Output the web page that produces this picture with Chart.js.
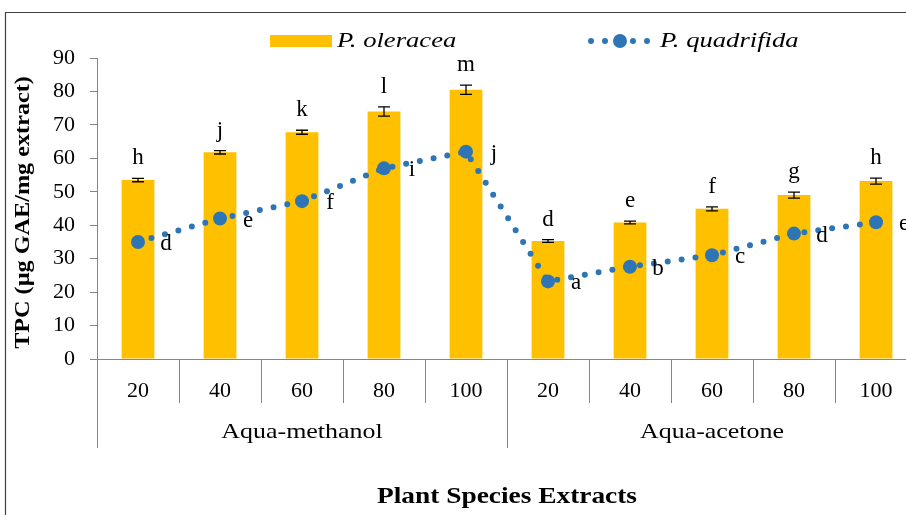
<!DOCTYPE html>
<html lang="en">
<head>
    <meta charset="UTF-8" />
    <title>TPC of plant species extracts</title>
    <script src="https://cdn.jsdelivr.net/npm/chart.js"></script>
    <style>
        * {
            box-sizing: border-box;
            margin: 0;
            padding: 0;
        }
        html, body {
            width: 906px;
            height: 515px;
            overflow: hidden;
            background: #ffffff;
        }
        #wrap {
            position: relative;
            width: 924px;
            height: 515px;
        }
    </style>
</head>
<body>

    <div id="wrap">
        <canvas id="tpcChart" width="924" height="515"></canvas>
    </div>

    <script>
        // values
        const categories = ['20', '40', '60', '80', '100', '20', '40', '60', '80', '100'];
        const groups = ['Aqua-methanol', 'Aqua-acetone'];
        const groupSize = 5;

        const oleracea = [53.5, 61.8, 67.8, 74.0, 80.5, 35.3, 40.8, 44.9, 49.0, 53.2];
        const oleraceaErr = [0.5, 0.5, 0.6, 1.4, 1.4, 0.4, 0.4, 0.6, 0.9, 0.9];
        const oleraceaLetters = ['h', 'j', 'k', 'l', 'm', 'd', 'e', 'f', 'g', 'h'];

        const quadrifida = [35.0, 42.0, 47.2, 57.0, 62.0, 23.2, 27.6, 31.0, 37.5, 40.9];
        const quadrifidaLetters = ['d', 'e', 'f', 'i', 'j', 'a', 'b', 'c', 'd', 'e'];

        const yTicks = [0, 10, 20, 30, 40, 50, 60, 70, 80, 90];

        const BAR = '#FFC000';
        const LINE = '#2E75B6';
        const AXIS = '#868686';
        const SERIF = '"Liberation Serif", "Times New Roman", serif';

        // the original text is a little wider than plain Times
        function wideText(ctx, text, x, y, sx) {
            ctx.save();
            ctx.translate(x, y);
            ctx.scale(sx, 1);
            ctx.fillText(text, 0, 0);
            ctx.restore();
        }

        // error bars, letters, x dividers, group labels, titles, legend, frame
        const extras = {
            id: 'extras',
            afterDatasetsDraw(chart) {
                const ctx = chart.ctx;
                const x = chart.scales.x;
                const y = chart.scales.y;

                // error bars
                ctx.save();
                ctx.strokeStyle = '#000';
                ctx.lineWidth = 1.3;
                oleracea.forEach((v, i) => {
                    const px = x.getPixelForValue(i);
                    const top = y.getPixelForValue(v + oleraceaErr[i]);
                    const bot = y.getPixelForValue(v - oleraceaErr[i]);
                    ctx.beginPath();
                    ctx.moveTo(px, top); ctx.lineTo(px, bot);
                    ctx.moveTo(px - 6, top); ctx.lineTo(px + 6, top);
                    ctx.moveTo(px - 6, bot); ctx.lineTo(px + 6, bot);
                    ctx.stroke();
                });
                ctx.restore();

                // letters
                ctx.save();
                ctx.fillStyle = '#000';
                ctx.font = '23px ' + SERIF;
                ctx.textAlign = 'center';
                ctx.textBaseline = 'middle';
                oleracea.forEach((v, i) => {
                    const px = x.getPixelForValue(i);
                    const top = y.getPixelForValue(v + oleraceaErr[i]);
                    ctx.fillText(oleraceaLetters[i], px, top - 20);
                });
                quadrifida.forEach((v, i) => {
                    const px = x.getPixelForValue(i);
                    ctx.fillText(quadrifidaLetters[i], px + 28, y.getPixelForValue(v) + 2);
                });
                ctx.restore();
            },
            afterDraw(chart) {
                const ctx = chart.ctx;
                const x = chart.scales.x;
                const area = chart.chartArea;
                const step = x.width / categories.length;

                // category and group dividers below the axis
                ctx.save();
                ctx.strokeStyle = AXIS;
                ctx.lineWidth = 1;
                for (let i = 0; i <= categories.length; i++) {
                    const px = Math.round(x.left + i * step) + 0.5;
                    const isGroup = i % groupSize === 0;
                    ctx.beginPath();
                    ctx.moveTo(px, area.bottom);
                    ctx.lineTo(px, area.bottom + (isGroup ? 89 : 44));
                    ctx.stroke();
                }
                ctx.restore();

                // group labels
                ctx.save();
                ctx.fillStyle = '#000';
                ctx.font = '22px ' + SERIF;
                ctx.textAlign = 'center';
                ctx.textBaseline = 'middle';
                groups.forEach((g, k) => {
                    const cx = x.left + (k * groupSize + groupSize / 2) * step;
                    wideText(ctx, g, cx, area.bottom + 73, 1.18);
                });

                // axis titles
                ctx.font = 'bold 23px ' + SERIF;
                wideText(ctx, 'Plant Species Extracts', (x.left + x.right) / 2, area.bottom + 138, 1.19);
                ctx.save();
                ctx.translate(24, (area.top + area.bottom) / 2 + 4);
                ctx.rotate(-Math.PI / 2);
                ctx.font = 'bold 20px ' + SERIF;
                wideText(ctx, 'TPC (µg GAE/mg extract)', 0, 0, 1.21);
                ctx.restore();

                // legend
                ctx.font = 'italic 22px ' + SERIF;
                ctx.textAlign = 'left';
                ctx.fillStyle = BAR;
                ctx.fillRect(270, 35, 62, 12);
                ctx.fillStyle = '#000';
                wideText(ctx, chart.data.datasets[1].label, 337, 41, 1.21);

                ctx.strokeStyle = LINE;
                ctx.lineWidth = 6;
                ctx.lineCap = 'round';
                ctx.setLineDash([0, 14]);
                ctx.beginPath();
                ctx.moveTo(591, 41); ctx.lineTo(650, 41);
                ctx.stroke();
                ctx.setLineDash([]);
                ctx.fillStyle = LINE;
                ctx.beginPath();
                ctx.arc(620, 41, 7, 0, Math.PI * 2);
                ctx.fill();
                ctx.fillStyle = '#000';
                wideText(ctx, chart.data.datasets[0].label, 660, 41, 1.21);

                // outer frame (cut by the window on the right and bottom)
                ctx.strokeStyle = '#404040';
                ctx.lineWidth = 1.2;
                ctx.beginPath();
                ctx.moveTo(5.5, chart.height);
                ctx.lineTo(5.5, 12.5);
                ctx.lineTo(chart.width, 12.5);
                ctx.stroke();
                ctx.restore();
            }
        };

        const ctx = document.getElementById('tpcChart').getContext('2d');
        const tpcChart = new Chart(ctx, {
            type: 'bar',
            data: {
                labels: categories,
                datasets: [
                    {
                        type: 'line',
                        label: 'P. quadrifida',
                        data: quadrifida,
                        order: 0,
                        borderColor: LINE,
                        backgroundColor: LINE,
                        borderWidth: 6,
                        borderDash: [0, 14],
                        borderCapStyle: 'round',
                        tension: 0,
                        fill: false,
                        pointRadius: 7,
                        pointBorderWidth: 0,
                        pointBackgroundColor: LINE
                    },
                    {
                        type: 'bar',
                        label: 'P. oleracea',
                        data: oleracea,
                        order: 1,
                        backgroundColor: BAR,
                        borderWidth: 0,
                        barPercentage: 0.4,
                        categoryPercentage: 1
                    }
                ]
            },
            options: {
                responsive: false,
                animation: false,
                devicePixelRatio: 1,
                layout: { padding: { top: 58, left: 0, right: 0, bottom: 0 } },
                plugins: {
                    legend: { display: false },
                    tooltip: { enabled: false }
                },
                scales: {
                    x: {
                        offset: true,
                        grid: { display: false, drawTicks: false },
                        border: { display: true, color: AXIS, width: 1 },
                        ticks: {
                            padding: 19,
                            color: '#000',
                            maxRotation: 0,
                            autoSkip: false,
                            font: { family: SERIF, size: 22 }
                        },
                        afterFit(scale) { scale.height = 156; }
                    },
                    y: {
                        min: 0,
                        max: 90,
                        afterBuildTicks(scale) { scale.ticks = yTicks.map(v => ({ value: v })); },
                        grid: { drawOnChartArea: false, drawTicks: true, tickLength: 7, color: AXIS },
                        border: { display: true, color: AXIS, width: 1 },
                        ticks: {
                            padding: 15,
                            color: '#000',
                            font: { family: SERIF, size: 22 }
                        },
                        afterFit(scale) { scale.width = 97; }
                    }
                }
            },
            plugins: [extras]
        });
    </script>

</body>
</html>
